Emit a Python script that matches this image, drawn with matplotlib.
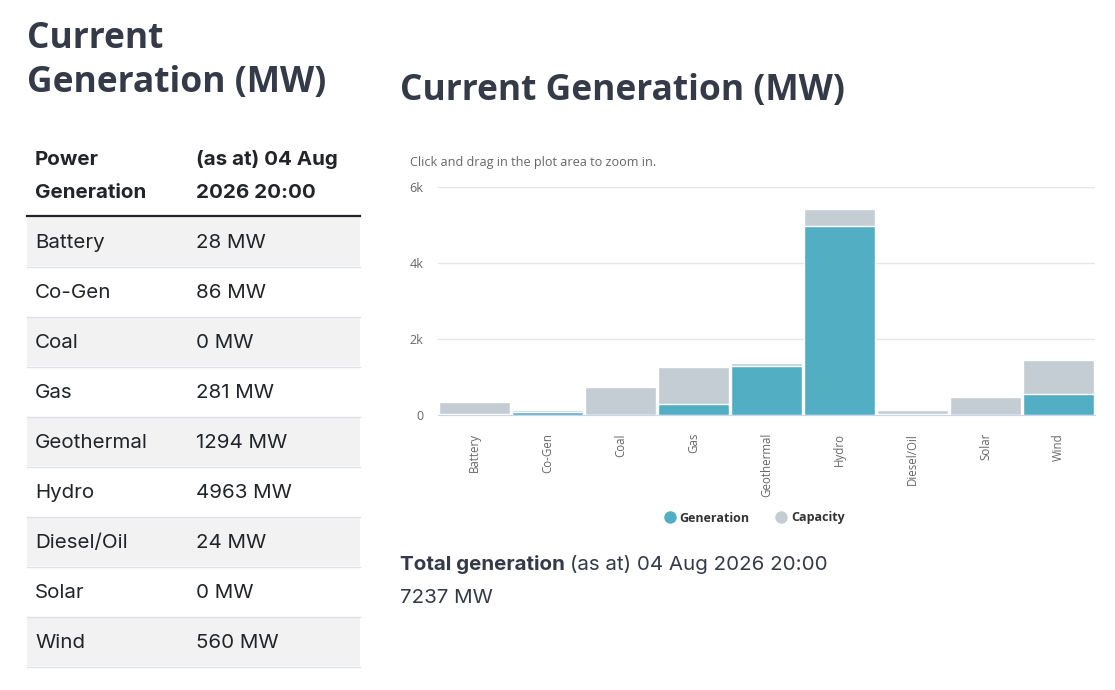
import matplotlib
matplotlib.use("Agg")
import matplotlib.pyplot as plt
from matplotlib.lines import Line2D
from matplotlib.patches import Rectangle

# data
categories = ["Battery", "Co-Gen", "Coal", "Gas", "Geothermal", "Hydro",
              "Diesel/Oil", "Solar", "Wind"]
generation = [28, 86, 0, 281, 1294, 4963, 24, 0, 560]
capacity = [330, 140, 750, 1270, 1380, 5420, 130, 480, 1450]
yticks = [0, 2000, 4000, 6000]
ytick_labels = ["0", "2k", "4k", "6k"]
as_at = "04 Aug 2026 20:00"
total_mw = 7237

W, H = 1115, 690
GEN_COL = "#52aec3"
CAP_COL = "#c3cdd3"
TITLE_COL = "#343a48"
TEXT_COL = "#212529"
TSIZE = 14.8

fig = plt.figure(figsize=(W / 100, H / 100), dpi=100)

# background axes in pixel coordinates for the table / text
bg = fig.add_axes([0, 0, 1, 1], zorder=0)
bg.set_xlim(0, W)
bg.set_ylim(H, 0)
bg.axis("off")

# left heading
bg.text(27, 48, "Current", fontsize=25.5, fontweight="bold", family="Open Sans",
        color=TITLE_COL, va="baseline")
bg.text(27, 92, "Generation (MW)", fontsize=25.5, fontweight="bold",
        family="Open Sans", color=TITLE_COL, va="baseline")

# table header
tfont = dict(family=["Inter", "DejaVu Sans"], color=TEXT_COL, va="baseline")
bg.text(35, 165, "Power", fontsize=TSIZE, fontweight="bold", **tfont)
bg.text(35, 198, "Generation", fontsize=TSIZE, fontweight="bold", **tfont)
bg.text(196, 165, "(as at) " + as_at[:6], fontsize=TSIZE, fontweight="bold", **tfont)
bg.text(196, 198, as_at[7:], fontsize=TSIZE, fontweight="bold", **tfont)
bg.plot([27, 360], [215.5, 215.5], color=TEXT_COL, lw=1.6)

# table rows
for i, (cat, val) in enumerate(zip(categories, generation)):
    top = 217 + 50 * i
    if i % 2 == 0:
        bg.add_patch(Rectangle((27, top), 333, 49, facecolor="#f2f2f2",
                               edgecolor="none"))
    bg.plot([27, 360], [top + 49.5, top + 49.5], color="#dee2e6", lw=1)
    bg.text(35, top + 31, cat, fontsize=TSIZE, **tfont)
    bg.text(196, top + 31, f"{val} MW", fontsize=TSIZE, **tfont)

# right heading and subtitle
bg.text(400, 100, "Current Generation (MW)", fontsize=25.5, fontweight="bold",
        family="Open Sans", color=TITLE_COL, va="baseline")
bg.text(410, 166, "Click and drag in the plot area to zoom in.", fontsize=9.1,
        family="Open Sans", color="#666666", va="baseline")

# total generation line
fig.canvas.draw()
r = fig.canvas.get_renderer()
t1 = bg.text(400, 570, "Total generation", fontsize=TSIZE, fontweight="bold",
             family=["Inter", "DejaVu Sans"], color=TITLE_COL, va="baseline")
bb = t1.get_window_extent(renderer=r)
x_end = bg.transData.inverted().transform((bb.x1, bb.y0))[0]
bg.text(x_end + 5, 570, "(as at) " + as_at, fontsize=TSIZE,
        family=["Inter", "DejaVu Sans"], color=TITLE_COL, va="baseline")
bg.text(400, 603, f"{total_mw} MW", fontsize=TSIZE,
        family=["Inter", "DejaVu Sans"], color=TITLE_COL, va="baseline")

# bar chart
left, right, top, bottom = 438, 1095, 187, 415
ax = fig.add_axes([left / W, 1 - bottom / H, (right - left) / W, (bottom - top) / H],
                  zorder=1)
ax.patch.set_alpha(0)
x = list(range(len(categories)))
ax.bar(x, capacity, width=0.97, color=CAP_COL, edgecolor="white", lw=1,
       zorder=2, label="Capacity")
ax.bar(x, generation, width=0.97, color=GEN_COL, edgecolor="white", lw=1,
       zorder=3, label="Generation")
ax.set_xlim(-0.5, len(categories) - 0.5)
ax.set_ylim(0, 6000)
ax.set_yticks(yticks)
ax.set_yticklabels(ytick_labels, family="Open Sans", fontsize=9, color="#666666")
ax.set_xticks(x)
ax.set_xticklabels(categories, rotation=90, family="Open Sans", fontsize=8.3,
                   color="#666666", va="top", ha="center")
ax.tick_params(axis="both", length=0)
ax.tick_params(axis="y", pad=10.5)
ax.tick_params(axis="x", pad=13)
for s in ["top", "right", "left"]:
    ax.spines[s].set_visible(False)
ax.spines["bottom"].set_color("#ccd6eb")
ax.spines["bottom"].set_zorder(4)
ax.yaxis.grid(True, color="#e6e6e6", lw=1, zorder=0)
ax.set_axisbelow(True)

handles = [Line2D([], [], marker="o", ls="none", markersize=9,
                  markerfacecolor=GEN_COL, markeredgecolor="none"),
           Line2D([], [], marker="o", ls="none", markersize=9,
                  markerfacecolor=CAP_COL, markeredgecolor="none")]
fig.legend(handles, ["Generation", "Capacity"], loc="center",
           bbox_to_anchor=(754 / W, 1 - 518 / H), ncol=2, frameon=False,
           prop=dict(family="Open Sans", weight="bold", size=9),
           labelcolor="#333333", handletextpad=0.3, columnspacing=2.0,
           handlelength=1.0)

fig.savefig("out.png", dpi=100)
